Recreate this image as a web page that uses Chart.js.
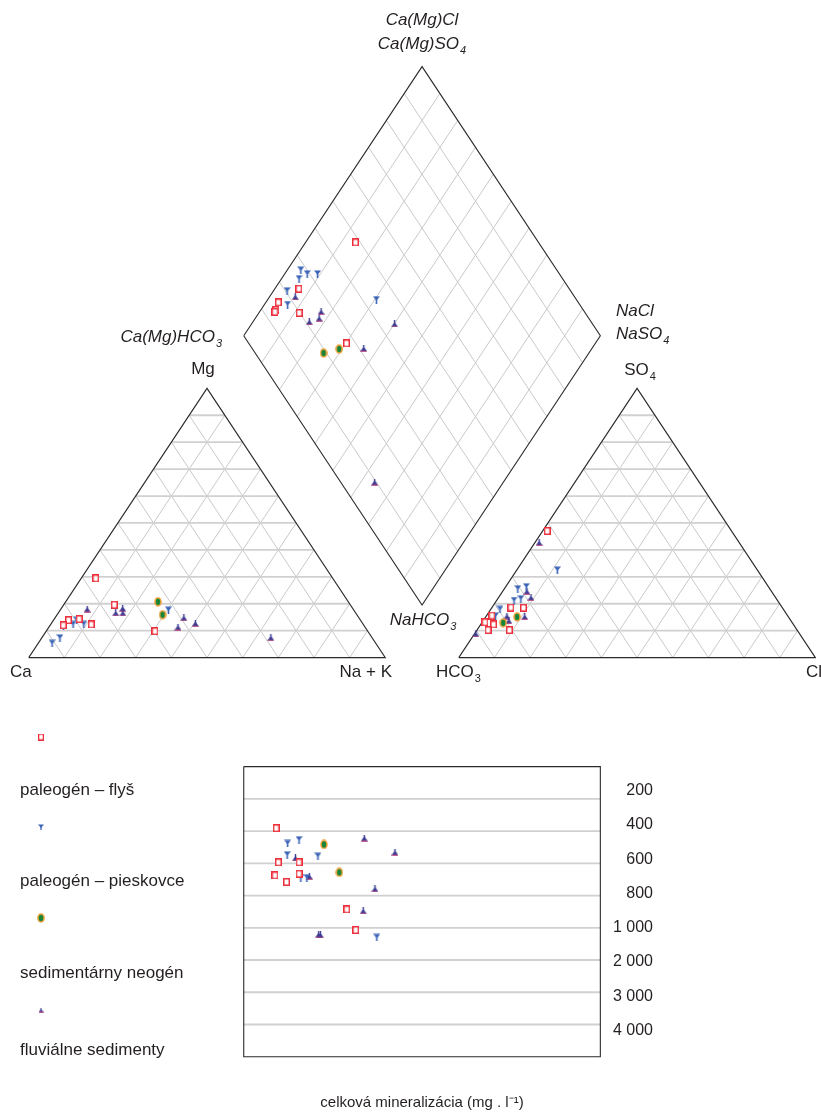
<!DOCTYPE html>
<html><head><meta charset="utf-8">
<script src="https://cdn.jsdelivr.net/npm/chart.js@4.4.0/dist/chart.umd.min.js"></script>
<style>html,body{margin:0;padding:0;background:#fff;}canvas{display:block;}</style>
</head><body>
<canvas id="c" width="821" height="1112"></canvas>
<script>
// ---------------- DATA ----------------
const seriesNames = ['paleogén – flyš', 'paleogén – pieskovce', 'sedimentárny neogén', 'fluviálne sedimenty'];

// cation triangle: [Mg %, Na+K %]  (Ca = rest)
const cationFlys = [[29.4,4.1],[19.6,14.2],[13.9,4.2],[14.3,7.0],[12.0,3.7],[12.3,11.4],[9.8,30.5]];
const cationPiesk = [[5.3,3.9],[7.3,5.1],[11.7,3.9],[12.3,6.3],[13.9,6.5],[12.3,9.3],[17.6,30.4]];
const cationNeogen = [[20.7,25.9],[15.9,29.6]];
const cationFluv = [[18.0,7.4],[16.6,16.1],[18.3,17.2],[16.6,18.1],[14.8,36.1],[11.3,36.2],[12.7,40.4],[7.4,64.2]];

// anion triangle: [SO4 %, Cl %]  (HCO3 = rest)
const anionFlys = [[47.0,1.3],[18.6,5.3],[18.5,8.9],[15.6,1.5],[13.1,0.8],[12.3,3.6],[10.2,3.1],[10.2,9.1]];
const anionPiesk = [[32.5,11.4],[26.3,5.8],[25.5,3.8],[21.8,6.5],[21.2,4.9],[17.9,2.6],[15.4,2.6]];
const anionNeogen = [[12.9,6.0],[15.1,8.8]];
const anionFluv = [[42.7,1.2],[24.6,6.8],[22.3,9.1],[15.4,5.8],[13.7,7.2],[15.2,10.9],[8.8,0.4]];

// diamond: [Na+K %, Cl+SO4 %]
const diamondFlys = [[14.0,48.7],[6.7,24.2],[3.5,15.9],[4.2,13.8],[4.3,13.2],[11.3,19.8],[30.2,27.4]];
const diamondPiesk = [[3.8,28.2],[6.3,29.3],[9.2,32.2],[4.9,26.1],[3.8,20.5],[6.5,18.1],[30.5,43.9]];
const diamondNeogen = [[25.6,19.2],[29.2,24.3]];
const diamondFluv = [[7.2,21.7],[17.2,26.2],[17.9,24.4],[15.8,21.0],[40.1,44.5],[36.0,31.3],[63.9,9.5]];

// total mineralization: [diamond position % (left->right), TDS mg/l]
const tdsFlys = [[9.1,382],[9.7,594],[15.5,594],[8.75,675],[15.5,665],[12.0,716],[28.9,886],[31.4,1070]];
const tdsPiesk = [[12.3,477],[15.5,454],[12.2,548],[20.8,556],[16.0,690],[17.7,690],[37.3,1300]];
const tdsNeogen = [[22.5,483],[26.8,656]];
const tdsFluv = [[33.8,444],[42.4,532],[14.5,567],[18.4,681],[36.8,758],[33.5,895],[21.0,1210],[21.5,1220]];

const tdsTicks = [200,400,600,800,1000,2000,3000,4000];
const tdsTickLabels = ['200','400','600','800','1 000','2 000','3 000','4 000'];
const gridPercents = [10,20,30,40,50,60,70,80,90];

// ---------------- GEOMETRY ----------------
const H = 86.6025, G = 20.6, D = 16.9;
function cation(mg, nak) { return {x: nak + mg / 2, y: mg * H / 100}; }
function anion(so4, cl) { return {x: 100 + G + cl + so4 / 2, y: so4 * H / 100}; }
const DL = {x: 50 + G / 2, y: D + H};
function diamond(nak, cs) { return {x: DL.x + cs / 2 + nak / 2, y: DL.y + (cs - nak) * H / 100}; }
function tdsIndex(v) { return v <= 1000 ? v / 200 : 5 + (v - 1000) / 1000; }

// grid segments
const triH = [], triD = [], diaG = [];
gridPercents.forEach(k => {
  triH.push([cation(k, 0), cation(k, 100 - k)]);
  triH.push([anion(k, 0), anion(k, 100 - k)]);
  triD.push([cation(0, k), cation(100 - k, k)]);
  triD.push([cation(0, 100 - k), cation(100 - k, 0)]);
  triD.push([anion(0, k), anion(100 - k, k)]);
  triD.push([anion(0, 100 - k), anion(100 - k, 0)]);
  diaG.push([diamond(0, k), diamond(100, k)]);
  diaG.push([diamond(k, 0), diamond(k, 100)]);
});
const outlines = [
  [cation(0,0), cation(0,100), cation(100,0), cation(0,0)],
  [anion(0,0), anion(100,0), anion(0,100), anion(0,0)],
  [diamond(0,0), diamond(0,100), diamond(100,100), diamond(100,0), diamond(0,0)]
];

// TDS box
const boxL = diamond(0,0).x, boxR = diamond(100,100).x;
const tdsGrid = tdsTicks.map(v => [{x: boxL, y: tdsIndex(v)}, {x: boxR, y: tdsIndex(v)}]);
const tdsBox = [{x: boxL, y: 0}, {x: boxR, y: 0}, {x: boxR, y: tdsIndex(5000)}, {x: boxL, y: tdsIndex(5000)}, {x: boxL, y: 0}];

// ---------------- MARKERS ----------------
function mk(w, h, f) { const c = document.createElement('canvas'); c.width = w; c.height = h; f(c.getContext('2d'), w, h); return c; }
function mSquare(s) { return mk(Math.round(7*s), Math.round(8*s), (g, w, h) => { g.fillStyle = '#fff'; g.fillRect(0, 0, w, h); g.strokeStyle = '#ec2f3b'; g.lineWidth = 1.5*s; g.strokeRect(0.75*s, 0.75*s, w - 1.5*s, h - 1.5*s); }); }
function mDown(s) { return mk(Math.round(7*s), Math.round(8*s), (g, w, h) => { g.fillStyle = '#3b63b6'; g.beginPath(); g.moveTo(0, 0.5*s); g.lineTo(w, 0.5*s); g.lineTo(w/2, 5*s); g.closePath(); g.fill(); g.fillRect(w/2 - 0.8*s, 3*s, 1.6*s, h - 3*s); }); }
function mEll(s) { return mk(Math.round(8*s), Math.round(10*s), (g, w, h) => { g.fillStyle = '#17853a'; g.strokeStyle = '#f0a13a'; g.lineWidth = 1.6*s; g.beginPath(); g.ellipse(w/2, h/2, w/2 - 1*s, h/2 - 1*s, 0, 0, Math.PI*2); g.fill(); g.stroke(); }); }
function mUp(s) { return mk(Math.round(7*s), Math.round(7*s), (g, w, h) => { g.fillStyle = '#3a3a92'; g.beginPath(); g.moveTo(0, h - 0.5*s); g.lineTo(w, h - 0.5*s); g.lineTo(w/2, 1.5*s); g.closePath(); g.fill(); g.fillRect(w/2 - 0.7*s, 0, 1.4*s, 3*s); g.fillStyle = '#d0457a'; g.fillRect(0.5*s, h - 1.2*s, w - 1*s, 0.9*s); }); }
const imgs = [mSquare(1), mDown(1), mEll(1), mUp(1)];
const legendImgs = [mSquare(0.85), mDown(0.8), mEll(0.95), mUp(0.75)];

// ---------------- DATASETS ----------------
const datasets = [];
function lineDS(data, color, width, order, axis) {
  return {type: 'line', data, borderColor: color, borderWidth: width, pointRadius: 0, fill: false, tension: 0,
    order, yAxisID: axis || 'y', borderJoinStyle: 'miter'};
}
triD.forEach(s => datasets.push(lineDS(s, '#c9c9c9', 1, 20)));
diaG.forEach(s => datasets.push(lineDS(s, '#c9c9c9', 1, 20)));
triH.forEach(s => datasets.push(lineDS(s, '#d0d0d0', 1.8, 19)));
outlines.forEach(s => datasets.push(lineDS(s, '#2a2a2a', 1.1, 10)));
tdsGrid.forEach(s => datasets.push(lineDS(s, '#d0d0d0', 1.8, 19, 'yT')));
datasets.push(lineDS(tdsBox, '#2a2a2a', 1.1, 10, 'yT'));

const groups = [
  [cationFlys, anionFlys, diamondFlys, tdsFlys],
  [cationPiesk, anionPiesk, diamondPiesk, tdsPiesk],
  [cationNeogen, anionNeogen, diamondNeogen, tdsNeogen],
  [cationFluv, anionFluv, diamondFluv, tdsFluv]
];
const ptOrder = [2, 3, 1, 4];
groups.forEach((g, i) => {
  const pts = [].concat(g[0].map(p => cation(p[0], p[1])), g[1].map(p => anion(p[0], p[1])), g[2].map(p => diamond(p[0], p[1])));
  const common = {type: 'scatter', pointStyle: imgs[i], pointRadius: 4, pointHoverRadius: 4, order: ptOrder[i], label: seriesNames[i]};
  datasets.push(Object.assign({}, common, {data: pts, yAxisID: 'y'}));
  datasets.push(Object.assign({}, common, {data: g[3].map(p => ({x: DL.x + p[0], y: tdsIndex(p[1])})), yAxisID: 'yT'}));
});

// ---------------- TEXT ----------------
const FONT = '"Liberation Sans", Arial, Helvetica, sans-serif';
function rich(ctx, parts, x, y, align, size, italic) {
  const st = italic ? 'italic ' : '';
  const base = st + size + 'px ' + FONT, sub = st + Math.round(size * 0.62) + 'px ' + FONT;
  let w = 0;
  parts.forEach(p => { ctx.font = p[1] ? sub : base; w += ctx.measureText(p[0]).width + (p[1] ? 1 : 0); });
  let sx = align === 'center' ? x - w / 2 : (align === 'right' ? x - w : x);
  ctx.textAlign = 'left'; ctx.textBaseline = 'middle';
  parts.forEach(p => {
    ctx.font = p[1] ? sub : base;
    if (p[1]) sx += 1;
    ctx.fillText(p[0], sx, p[1] ? y + size * 0.42 : y);
    sx += ctx.measureText(p[0]).width;
  });
}

const textPlugin = {
  id: 'texts',
  afterDraw(chart) {
    const ctx = chart.ctx, yT = chart.scales.yT;
    ctx.save();
    ctx.fillStyle = '#231f20';
    rich(ctx, [['Ca(Mg)Cl']], 422, 20, 'center', 17, true);
    rich(ctx, [['Ca(Mg)SO'], ['4', true]], 422, 44, 'center', 17, true);
    rich(ctx, [['Ca(Mg)HCO'], ['3', true]], 222, 337, 'right', 17, true);
    rich(ctx, [['NaCl']], 616, 311, 'left', 17, true);
    rich(ctx, [['NaSO'], ['4', true]], 616, 334, 'left', 17, true);
    rich(ctx, [['NaHCO'], ['3', true]], 423, 620, 'center', 17, true);
    rich(ctx, [['Mg']], 203, 369, 'center', 17, false);
    rich(ctx, [['Ca']], 10, 672, 'left', 17, false);
    rich(ctx, [['Na + K']], 392, 672, 'right', 17, false);
    rich(ctx, [['SO'], ['4', true]], 640, 370, 'center', 17, false);
    rich(ctx, [['HCO'], ['3', true]], 436, 672, 'left', 17, false);
    rich(ctx, [['Cl']], 806, 672, 'left', 17, false);
    ctx.font = '16px ' + FONT; ctx.textAlign = 'right'; ctx.textBaseline = 'middle';
    tdsTicks.forEach((v, i) => { ctx.fillText(tdsTickLabels[i], 653, yT.getPixelForValue(tdsIndex(v)) - 8 + 2 * i); });
    ctx.font = '15px ' + FONT; ctx.textAlign = 'center';
    ctx.fillText('celková mineralizácia (mg . l\u207B\u00B9)', 422, 1103);
    const legMarkY = [737, 827, 918, 1010], legTextY = [790, 881, 973, 1050];
    ctx.textAlign = 'left'; ctx.font = '17px ' + FONT;
    seriesNames.forEach((n, i) => {
      const im = legendImgs[i];
      ctx.drawImage(im, 41 - im.width / 2, legMarkY[i] - im.height / 2);
      ctx.fillText(n, 20, legTextY[i]);
    });
    ctx.restore();
  }
};

// ---------------- CHART ----------------
const PX = 3.61, OX = 24, PY = 3.137, OY = 658.5, TY0 = 768.5, TYS = 32.53, W = 821, HH = 1112;
new Chart(document.getElementById('c'), {
  type: 'scatter',
  data: {datasets},
  options: {
    responsive: false, animation: false, devicePixelRatio: 1, events: [],
    layout: {padding: 0},
    plugins: {legend: {display: false}, tooltip: {enabled: false}, title: {display: false}},
    scales: {
      x: {type: 'linear', display: false, min: -OX / PX, max: (W - OX) / PX},
      y: {type: 'linear', display: false, min: (OY - HH) / PY, max: OY / PY},
      yT: {type: 'linear', display: false, reverse: true, min: -TY0 / TYS, max: (HH - TY0) / TYS}
    }
  },
  plugins: [textPlugin]
});
</script>
</body></html>
